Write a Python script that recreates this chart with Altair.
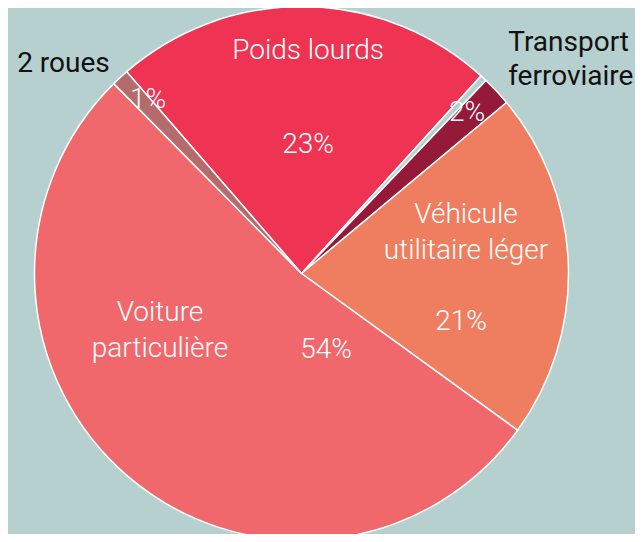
import math
import altair as alt
import pandas as pd

# ---- data ----
categories = ["Poids lourds", "", "Transport ferroviaire", "Véhicule utilitaire léger",
              "Voiture particulière", "2 roues"]
values = [23.1, 0.4, 1.8, 21.05, 52.6, 1.05]
colors = ["#EE3353", "#B6D0D0", "#951A39", "#EE7E5F", "#F0676C", "#B56B6C"]

# label texts (white inside, dark outside)
white_texts = ["Poids lourds", "23%", "2%", "Véhicule\nutilitaire léger", "21%",
               "Voiture\nparticulière", "54%", "1%"]
dark_texts = ["Transport\nferroviaire", "2 roues"]

# ---- layout (label placement, polar: degrees clockwise from north, px from centre) ----
white_ang = [1.7, 2.9, 45.9, 70.4, 106.9, 254.4, 162.2, 318.5]
white_rad = [222.6, 128.7, 230.5, 174.6, 166.7, 146.9, 80.3, 231.6]
dark_ang = [41.9, 306.4]
dark_rad = [309.5, 353.3]

BG = "#B6D0D0"
CX, CY, R = 293.5, 265.5, 267
start = math.radians(-40.9)

df = pd.DataFrame({"cat": categories, "value": values, "idx": list(range(len(values)))})
wdf = pd.DataFrame({"t": white_texts, "ang": white_ang, "r": white_rad})
ddf = pd.DataFrame({"t": dark_texts, "ang": dark_ang, "r": dark_rad})

pie = alt.Chart(df).mark_arc(outerRadius=R, stroke="white", strokeWidth=1.5).encode(
    theta=alt.Theta("value:Q", stack=True,
                    scale=alt.Scale(range=[start, start + 2 * math.pi])),
    color=alt.Color("cat:N", scale=alt.Scale(domain=categories, range=colors), legend=None),
    order=alt.Order("idx:Q"),
    x=alt.value(CX),
    y=alt.value(CY),
)

theta_txt = alt.Theta("ang:Q", scale=alt.Scale(domain=[0, 360], range=[0, 2 * math.pi]))
rad_txt = alt.Radius("r:Q", scale=alt.Scale(type="linear", domain=[0, 400], range=[0, 400], zero=True))

white_layer = alt.Chart(wdf).mark_text(
    font="Roboto", fontSize=28, fontWeight=300, color="white", lineBreak="\n", lineHeight=36,
    align="center", baseline="middle"
).encode(theta=theta_txt, radius=rad_txt, text="t:N", x=alt.value(CX), y=alt.value(CY))

dark_layer = alt.Chart(ddf).mark_text(
    font="Roboto", fontSize=28, fontWeight=400, color="#111111", lineBreak="\n", lineHeight=34,
    align="left", baseline="middle"
).encode(theta=theta_txt, radius=rad_txt, text="t:N", x=alt.value(CX), y=alt.value(CY))

chart = alt.layer(pie, white_layer, dark_layer).resolve_scale(
    theta="independent", radius="independent"
).properties(
    width=627, height=526, autosize=alt.AutoSizeParams(type="none"), padding=0,
    background=BG
).configure_view(stroke=None)

chart.save("out.html", embed_options={"renderer": "svg", "actions": False})
